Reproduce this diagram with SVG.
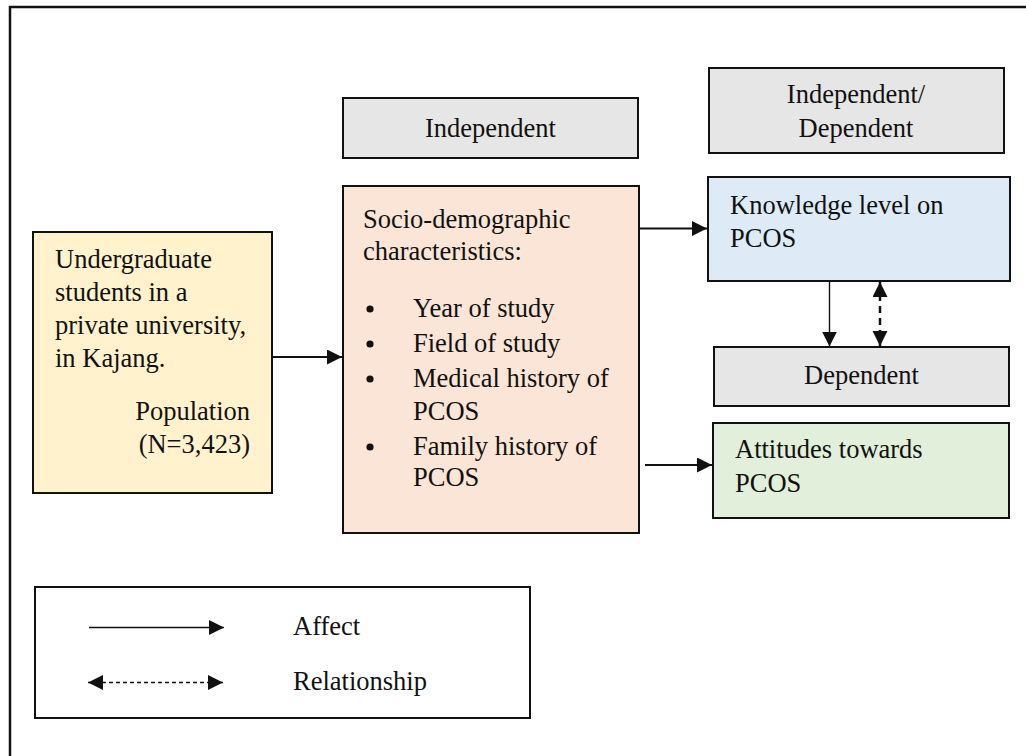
<svg xmlns="http://www.w3.org/2000/svg" width="1026" height="756" viewBox="0 0 1026 756">
<style>
  text { font-family: "Liberation Serif", "Times New Roman", serif; font-size: 26.5px; fill: #111; }
  .box { stroke: #111; stroke-width: 2; }
  .gray { fill: #e7e6e6; }
  .c { text-anchor: middle; }
  .r { text-anchor: end; }
  .ln { stroke: #111; fill: none; }
</style>
<defs>
  <marker id="ah" markerUnits="userSpaceOnUse" markerWidth="16" markerHeight="16" refX="15" refY="7.5" orient="auto-start-reverse">
    <path d="M0,0 L15,7.5 L0,15 z" fill="#111"/>
  </marker>
</defs>
<rect width="1026" height="756" fill="#fff"/>
<path d="M10,756 V7 H1026" class="ln" stroke-width="2.5"/>

<g id="independent-label">
  <rect class="box gray" x="343" y="98" width="295" height="60"/>
  <text class="c" x="490.5" y="137">Independent</text>
</g>
<g id="indep-dep-label">
  <rect class="box gray" x="709" y="68" width="295" height="85"/>
  <text class="c" x="856" y="103">Independent/</text>
  <text class="c" x="856" y="136.5">Dependent</text>
</g>
<g id="population">
  <rect class="box" fill="#fff2cc" x="33" y="232" width="239" height="261"/>
  <text x="55" y="268">Undergraduate</text>
  <text x="55" y="301">students in a</text>
  <text x="55" y="334">private university,</text>
  <text x="55" y="367">in Kajang.</text>
  <text class="r" x="250" y="420">Population</text>
  <text class="r" x="250" y="453">(N=3,423)</text>
</g>
<g id="socio">
  <rect class="box" fill="#fbe5d6" x="343" y="186" width="296" height="347"/>
  <text x="363" y="228">Socio-demographic</text>
  <text x="363" y="260">characteristics:</text>
  <circle cx="370" cy="309" r="3.6" fill="#111"/>
  <circle cx="370" cy="344" r="3.6" fill="#111"/>
  <circle cx="370" cy="379" r="3.6" fill="#111"/>
  <circle cx="370" cy="447" r="3.6" fill="#111"/>
  <text x="413" y="317">Year of study</text>
  <text x="413" y="352">Field of study</text>
  <text x="413" y="387">Medical history of</text>
  <text x="413" y="420">PCOS</text>
  <text x="413" y="455">Family history of</text>
  <text x="413" y="486">PCOS</text>
</g>
<g id="knowledge">
  <rect class="box" fill="#deebf7" x="708" y="177" width="302" height="104"/>
  <text x="730" y="214">Knowledge level on</text>
  <text x="730" y="246.5">PCOS</text>
</g>
<g id="dependent-label">
  <rect class="box gray" x="714" y="347" width="295" height="59"/>
  <text class="c" x="861.5" y="383.5">Dependent</text>
</g>
<g id="attitudes">
  <rect class="box" fill="#e2efda" x="713" y="423" width="296" height="95"/>
  <text x="735" y="458">Attitudes towards</text>
  <text x="735" y="491.5">PCOS</text>
</g>
<g id="legend">
  <rect class="box" fill="#fff" x="35" y="587" width="495" height="131"/>
  <line class="ln" x1="89" y1="627.5" x2="224" y2="627.5" stroke-width="1.5" marker-end="url(#ah)"/>
  <line class="ln" x1="88" y1="682.5" x2="223" y2="682.5" stroke-width="1.5" stroke-dasharray="4,3" marker-start="url(#ah)" marker-end="url(#ah)"/>
  <text x="293" y="635">Affect</text>
  <text x="293" y="689.5">Relationship</text>
</g>
<g id="connectors">
  <line class="ln" x1="272" y1="357" x2="342" y2="357" stroke-width="2" marker-end="url(#ah)"/>
  <line class="ln" x1="639" y1="228.5" x2="707" y2="228.5" stroke-width="2" marker-end="url(#ah)"/>
  <line class="ln" x1="645" y1="465" x2="712" y2="465" stroke-width="2" marker-end="url(#ah)"/>
  <line class="ln" x1="829.5" y1="282" x2="829.5" y2="346.5" stroke-width="1.4" marker-end="url(#ah)"/>
  <line class="ln" x1="880" y1="282" x2="880" y2="346" stroke-width="2.5" stroke-dasharray="7,5" marker-start="url(#ah)" marker-end="url(#ah)"/>
</g>
</svg>
